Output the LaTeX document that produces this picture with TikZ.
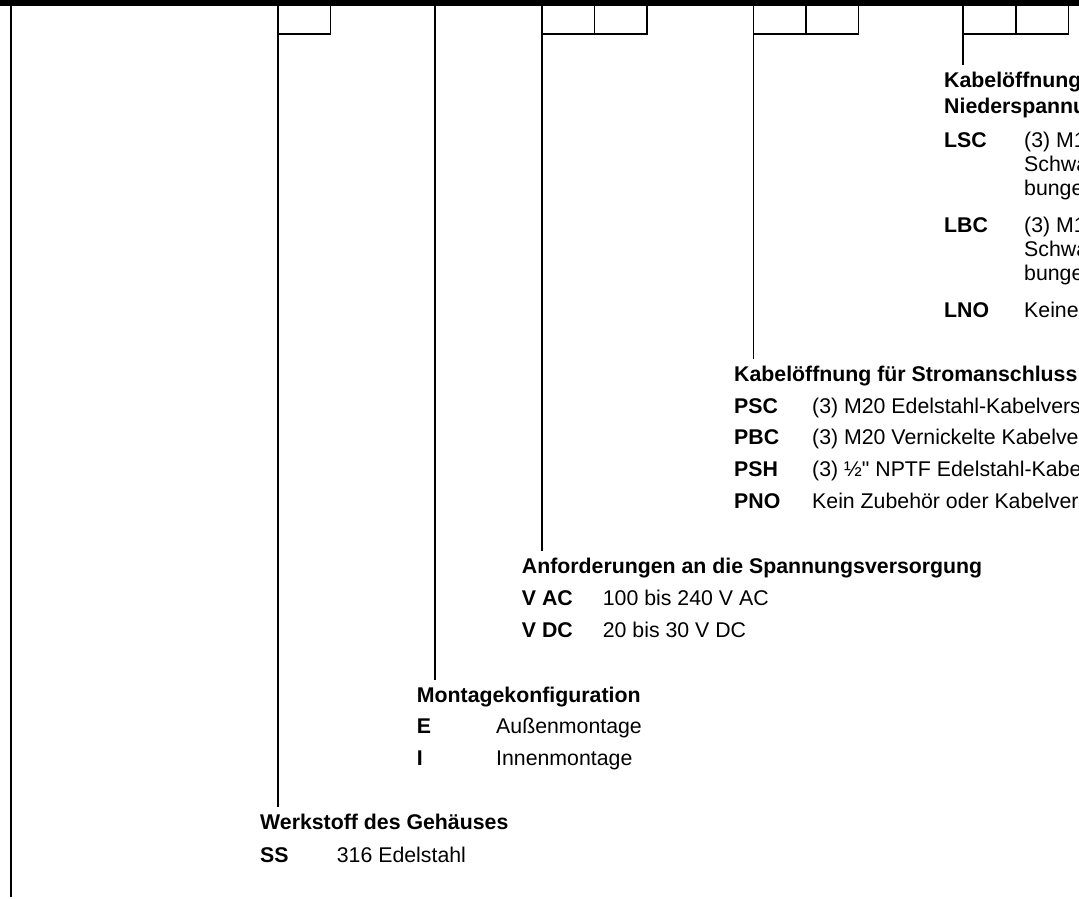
\documentclass[tikz,border=0pt]{standalone}
\usepackage{fontspec}
\setmainfont{Liberation Sans}
\newfontfamily\nomapfont{Liberation Sans}
\tikzset{
  rule/.style={line width=1.7pt},
  lead/.style={rule, shorten >=22.5pt},
  txt/.style={anchor=base west, inner sep=0pt, font=\fontsize{21.3}{25}\selectfont},
  bold/.style={txt, font=\fontsize{21.3}{25}\selectfont\bfseries},
}
\begin{document}
\begin{tikzpicture}[x=1pt,y=-1pt]
\clip (0,0) rectangle (1079,898);
% top bar
\fill (0,0) rectangle (1079,6.3);
% left border line
\coordinate (L0) at (11,6);
\coordinate (L1) at (11,897);
\draw[rule] (L0) -- (L1);

% ---------- texts ----------
% Werkstoff
\node[bold] (h1) at (260,829) {Werkstoff des Gehäuses};
\node[bold] (c1a) at (260,862) {SS};
\node[txt]  (d1a) at (336.7,862) {316 Edelstahl};
% Montage
\node[bold] (h2) at (416.7,702) {Montagekonfiguration};
\node[bold] (c2a) at (416.7,733.5) {E};
\node[txt]  (d2a) at (496,733.5) {Außenmontage};
\node[bold] (c2b) at (416.7,765) {I};
\node[txt]  (d2b) at (496,765) {Innenmontage};
% Spannungsversorgung
\node[bold] (h3) at (521.7,573.5) {Anforderungen an die Spannungsversorgung};
\node[bold] (c3a) at (521.7,605) {V AC};
\node[txt]  (d3a) at (602.7,605) {100 bis 240 V AC};
\node[bold] (c3b) at (521.7,637) {V DC};
\node[txt]  (d3b) at (602.7,637) {20 bis 30 V DC};
% Stromanschluss
\node[bold] (h4) at (734,381.7) {Kabelöffnung für Stromanschluss};
\node[bold] (c4a) at (734,413) {PSC};
\node[txt]  (d4a) at (812,413) {(3) M20 Edelstahl-Kabelvers};
\node[bold] (c4b) at (734,444.5) {PBC};
\node[txt]  (d4b) at (812,444.5) {(3) M20 Vernickelte Kabelver};
\node[bold] (c4c) at (734,476.5) {PSH};
\node[txt]  (d4c) at (812,476.5) {(3) ½{\nomapfont"} NPTF Edelstahl-Kabe};
\node[bold] (c4d) at (734,508.5) {PNO};
\node[txt]  (d4d) at (812,508.5) {Kein Zubehör oder Kabelvers};
% Niederspannung
\node[bold] (h5) at (944,87.3) {Kabelöffnung};
\node[bold] (h5b) at (944,113.3) {Niederspannu};
\node[bold] (c5a) at (944,147) {LSC};
\node[txt]  (d5a) at (1024,147) {(3) M1};
\node[txt]  (d5a2) at (1024,171) {Schwa};
\node[txt]  (d5a3) at (1024,195) {bunge};
\node[bold] (c5b) at (944,232) {LBC};
\node[txt]  (d5b) at (1024,232) {(3) M1};
\node[txt]  (d5b2) at (1024,256) {Schwa};
\node[txt]  (d5b3) at (1024,280) {bunge};
\node[bold] (c5c) at (944,317) {LNO};
\node[txt]  (d5c) at (1024,317) {Keine};

% ---------- code boxes ----------
\coordinate (b1) at (278,6);
\coordinate (b2) at (435,6);
\coordinate (b3) at (542,6);
\coordinate (b4) at (753.5,6);
\coordinate (b5) at (963,6);

\draw[rule] (b1) |- (330.5,34) -- (330.5,6);
\draw[rule] (b3) |- (647,34) -- (647,6);
\draw[rule] (594.5,6) -- (594.5,34);
\draw[rule] (b4) |- (858.5,34) -- (858.5,6);
\draw[rule] (806,6) -- (806,34);
\draw[rule] (b5) |- (1068.5,34) -- (1068.5,6);
\draw[rule] (1016,6) -- (1016,34);

% ---------- leaders ----------
\draw[lead] (b1) -- (b1 |- h1.base);
\draw[lead] (b2) -- (b2 |- h2.base);
\draw[lead] (b3) -- (b3 |- h3.base);
\draw[lead] (b4) -- (b4 |- h4.base);
\draw[lead] (b5) -- (b5 |- h5.base);
\end{tikzpicture}
\end{document}
